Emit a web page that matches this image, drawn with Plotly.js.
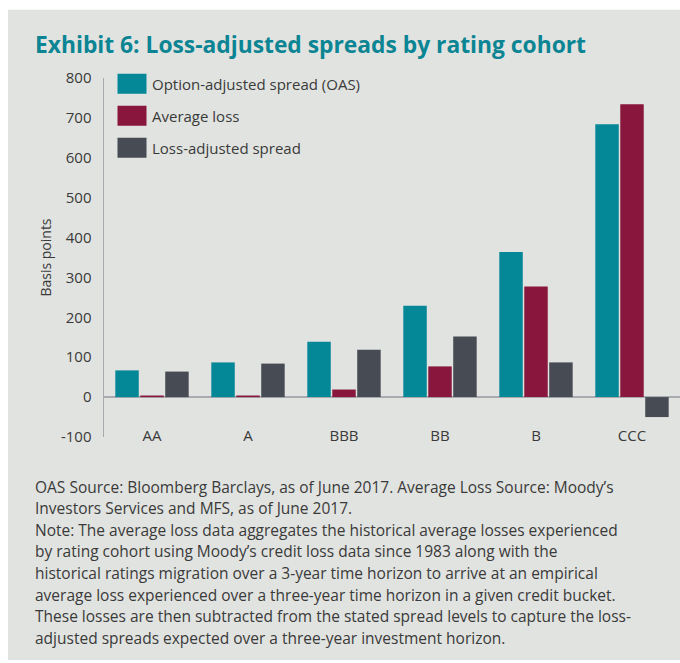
<!DOCTYPE html>
<html>
<head>
<meta charset="utf-8">
<script src="https://cdn.plot.ly/plotly-3.0.1.min.js"></script>
<style>
html,body{margin:0;padding:0;background:#ffffff;}
#chart{width:680px;height:663px;}
</style>
</head>
<body>
<div id="chart"></div>
<script>
const categories = ['AA', 'A', 'BBB', 'BB', 'B', 'CCC'];
const oasValues = [67, 87, 139, 229, 364, 684];
const avgLossValues = [4, 4, 19, 77, 277, 734];
const lossAdjValues = [64, 84, 119, 152, 87, -50];
const yTickValues = [-100, 0, 100, 200, 300, 400, 500, 600, 700, 800];
const seriesNames = ['Option-adjusted spread (OAS)', 'Average loss', 'Loss-adjusted spread'];
const seriesColors = ['#048797', '#89163d', '#474b53'];

const titleText = 'Exhibit 6: Loss-adjusted spreads by rating cohort';
const noteLines = [
  'OAS Source: Bloomberg Barclays, as of June 2017. Average Loss Source: Moody\u2019s',
  'Investors Services and MFS, as of June 2017.',
  'Note: The average loss data aggregates the historical average losses experienced',
  'by rating cohort using Moody\u2019s credit loss data since 1983 along with the',
  'historical ratings migration over a 3-year time horizon to arrive at an empirical',
  'average loss experienced over a three-year time horizon in a given credit bucket.',
  'These losses are then subtracted from the stated spread levels to capture the loss-',
  'adjusted spreads expected over a three-year investment horizon.'
];

const W = 680, H = 663;
const L = 104, R = 0, T = 77.5, B = 225.5;
const pw = W - L - R, ph = H - T - B;
const px = x => (x - L) / pw;
const py = y => (H - B - y) / ph;

const txtColor = '#3a3a3a';
const fontFam = '"Open Sans", "Noto Sans", sans-serif';

const seriesValues = [oasValues, avgLossValues, lossAdjValues];
const data = seriesValues.map((vals, i) => ({
  type: 'bar',
  name: seriesNames[i],
  x: categories,
  y: vals,
  legendgroup: 'g' + i,
  marker: {color: seriesColors[i], line: {width: 0}},
  hoverinfo: 'x+y+name'
}));

const noteAnnotations = noteLines.map((t, i) => ({
  text: t, xref: 'paper', yref: 'paper',
  x: px(33), y: py(487.5 + 21.6 * i), xanchor: 'left', yanchor: 'middle',
  align: 'left', showarrow: false,
  font: {family: fontFam, size: 15.5, color: txtColor}
}));

const layout = {
  width: W, height: H,
  margin: {l: L, r: R, t: T, b: B, pad: 0},
  paper_bgcolor: '#ffffff',
  plot_bgcolor: 'rgba(0,0,0,0)',
  barmode: 'group',
  bargap: 0.22,
  bargroupgap: 0.06,
  font: {family: fontFam, color: txtColor, size: 15},
  title: {
    text: titleText,
    xref: 'container', yref: 'container',
    x: 35 / W, xanchor: 'left',
    y: 1 - 45 / H, yanchor: 'middle',
    font: {family: fontFam, size: 22.8, color: '#0b8594', weight: 'bold'}
  },
  xaxis: {
    type: 'category',
    range: [-0.5, 5.5],
    showline: false,
    showgrid: false,
    zeroline: false,
    ticks: '',
    ticklabelstandoff: -12,
    tickfont: {family: fontFam, size: 15, color: txtColor},
    fixedrange: true
  },
  yaxis: {
    range: [-100, 800],
    tickvals: yTickValues,
    ticktext: yTickValues.map(String),
    showgrid: false,
    showline: true,
    linecolor: '#a8aaad',
    linewidth: 1.5,
    zeroline: true,
    zerolinecolor: '#a8aaad',
    zerolinewidth: 1.5,
    ticks: '',
    ticklabelstandoff: 8,
    tickfont: {family: fontFam, size: 15, color: txtColor},
    title: {text: 'Basis points', standoff: 6, font: {family: fontFam, size: 14, color: txtColor}},
    automargin: false,
    fixedrange: true
  },
  showlegend: true,
  legend: {
    x: px(112), xanchor: 'left',
    y: py(67), yanchor: 'top',
    bgcolor: 'rgba(0,0,0,0)',
    borderwidth: 0,
    traceorder: 'grouped',
    tracegroupgap: 9.5,
    font: {family: fontFam, size: 15, color: txtColor}
  },
  shapes: [{
    type: 'rect', xref: 'paper', yref: 'paper', layer: 'below',
    x0: px(8), x1: px(680), y0: py(661), y1: py(9),
    fillcolor: '#e1e3e0', line: {width: 0}
  }],
  annotations: noteAnnotations
};

Plotly.newPlot('chart', data, layout, {displayModeBar: false, staticPlot: true}).then(gd => {
  document.querySelectorAll('#chart .legend g.legendpoints path').forEach(p => {
    p.setAttribute('d', 'M14.5,10H-14.5V-10H14.5Z');
  });
});
</script>
</body>
</html>
